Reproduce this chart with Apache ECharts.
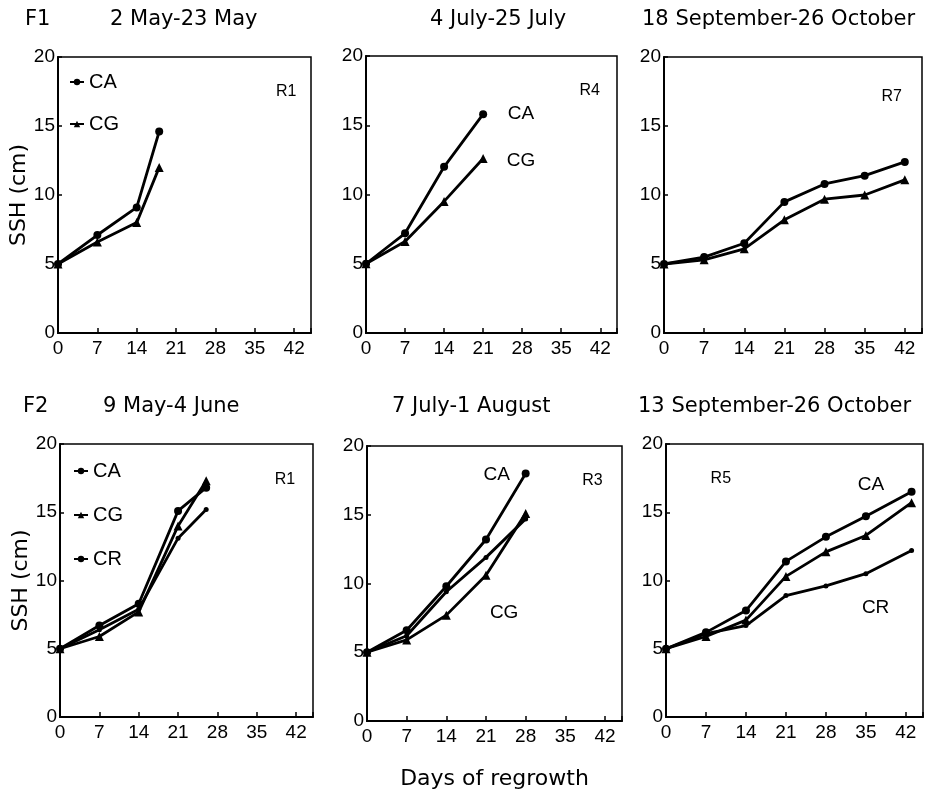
<!DOCTYPE html>
<html>
<head>
<meta charset="utf-8">
<script src="https://cdn.jsdelivr.net/npm/echarts@6/dist/echarts.min.js"></script>
<style>
    body { margin: 0; background: #fff; }
    #main { width: 943px; height: 793px; }
</style>
</head>
<body>
<div id="main"></div>
<script>
// days of regrowth per panel
var days1 = [0, 7, 14, 18];
var days2 = [0, 7, 14, 21];
var days3 = [0, 7, 14, 21, 28, 35, 42];
var days4 = [0, 7, 14, 21, 26];
var days5 = [0, 7, 14, 21, 28];
var days6 = [0, 7, 14, 21, 28, 35, 43];

// SSH (cm)
var ca1 = [5.0, 7.1, 9.1, 14.6];
var cg1 = [5.0, 6.6, 8.0, 12.0];
var ca2 = [5.0, 7.2, 12.0, 15.8];
var cg2 = [5.0, 6.6, 9.5, 12.6];
var ca3 = [5.0, 5.5, 6.5, 9.5, 10.8, 11.4, 12.4];
var cg3 = [5.0, 5.3, 6.1, 8.2, 9.7, 10.0, 11.1];
var ca4 = [5.0, 6.7, 8.3, 15.1, 16.8];
var cg4 = [5.0, 5.9, 7.7, 14.0, 17.3];
var cr4 = [5.0, 6.4, 7.9, 13.1, 15.2];
var ca5 = [5.0, 6.6, 9.8, 13.2, 18.0];
var cg5 = [5.0, 5.9, 7.7, 10.6, 15.1];
var cr5 = [5.0, 6.2, 9.4, 11.9, 14.7];
var ca6 = [5.0, 6.2, 7.8, 11.4, 13.2, 14.7, 16.5];
var cg6 = [5.0, 5.9, 7.1, 10.3, 12.1, 13.3, 15.7];
var cr6 = [5.0, 6.1, 6.7, 8.9, 9.6, 10.5, 12.2];

var xTicks = [0, 7, 14, 21, 28, 35, 42];
var yTicks = [0, 5, 10, 15, 20];

var periods = ['2 May-23 May', '4 July-25 July', '18 September-26 October',
    '9 May-4 June', '7 July-1 August', '13 September-26 October'];

// text labels inside the panels, placed in data coordinates
var notes = [
    { panel: 0, text: 'R1', x: 40.6, y: 17.5 },
    { panel: 1, text: 'R4', x: 40.1, y: 17.5 },
    { panel: 1, text: 'CA', x: 27.8, y: 15.8 },
    { panel: 1, text: 'CG', x: 27.8, y: 12.4 },
    { panel: 2, text: 'R7', x: 39.7, y: 17.1 },
    { panel: 3, text: 'R1', x: 40.0, y: 17.4 },
    { panel: 4, text: 'R3', x: 39.8, y: 17.5 },
    { panel: 4, text: 'CA', x: 22.9, y: 17.9 },
    { panel: 4, text: 'CG', x: 24.2, y: 7.85 },
    { panel: 5, text: 'R5', x: 9.6, y: 17.5 },
    { panel: 5, text: 'CA', x: 35.9, y: 17.0 },
    { panel: 5, text: 'CR', x: 36.7, y: 8.0 }
];

var panels = [
    { days: days1, lines: { CA: ca1, CG: cg1 } },
    { days: days2, lines: { CA: ca2, CG: cg2 } },
    { days: days3, lines: { CA: ca3, CG: cg3 } },
    { days: days4, lines: { CA: ca4, CG: cg4, CR: cr4 } },
    { days: days5, lines: { CA: ca5, CG: cg5, CR: cr5 } },
    { days: days6, lines: { CA: ca6, CG: cg6, CR: cr6 } }
];

var grids = [
    { left: 58, top: 57, width: 253, height: 276 },
    { left: 366, top: 56, width: 251, height: 277 },
    { left: 664, top: 57, width: 258, height: 276 },
    { left: 60, top: 444, width: 253, height: 273 },
    { left: 367, top: 446, width: 255, height: 275 },
    { left: 666, top: 444, width: 257, height: 273 }
];

var symbols = {
    CA: { symbol: 'circle', size: 8 },
    CG: { symbol: 'triangle', size: 9 },
    CR: { symbol: 'circle', size: 5 }
};

var tickFont = "Liberation Sans";
var textFont = "DejaVu Sans";

var myChart = echarts.init(document.getElementById('main'), null, { renderer: 'canvas' });

var gridList = [], xAxes = [], yAxes = [], series = [];
for (var i = 0; i < panels.length; i++) {
    var g = grids[i];
    gridList.push({
        left: g.left, top: g.top, width: g.width, height: g.height,
        show: true, borderColor: '#000', borderWidth: 1.5, backgroundColor: '#fff'
    });
    xAxes.push({
        type: 'value', gridIndex: i, min: 0, max: 45, interval: 7,
        axisLine: { show: true, lineStyle: { color: '#000', width: 2 } },
        axisTick: { show: true, inside: true, length: 5, lineStyle: { color: '#000', width: 1.5 } },
        axisLabel: {
            color: '#000', fontFamily: tickFont, fontSize: 19, margin: 6,
            formatter: function (v) { return xTicks.indexOf(v) >= 0 ? String(v) : ''; }
        },
        splitLine: { show: false },
        name: i === 4 ? 'Days of regrowth' : '',
        nameLocation: 'middle', nameGap: 47,
        nameTextStyle: { color: '#000', fontFamily: textFont, fontSize: 22 }
    });
    yAxes.push({
        type: 'value', gridIndex: i, min: 0, max: 20, interval: 5,
        axisLine: { show: true, lineStyle: { color: '#000', width: 2 } },
        axisTick: { show: true, inside: true, length: 4, lineStyle: { color: '#000', width: 1.5 } },
        axisLabel: {
            color: '#000', fontFamily: tickFont, fontSize: 19, margin: 3,
            formatter: function (v) { return yTicks.indexOf(v) >= 0 ? String(v) : ''; }
        },
        splitLine: { show: false },
        name: (i === 0 || i === 3) ? 'SSH (cm)' : '',
        nameLocation: 'middle', nameGap: 27,
        nameTextStyle: { color: '#000', fontFamily: textFont, fontSize: 22 }
    });

    var p = panels[i];
    var first = true;
    for (var key in p.lines) {
        var pts = [];
        for (var k = 0; k < p.days.length; k++) {
            pts.push([p.days[k], p.lines[key][k]]);
        }
        var s = {
            name: key, type: 'line', xAxisIndex: i, yAxisIndex: i,
            data: pts,
            symbol: symbols[key].symbol, symbolSize: symbols[key].size,
            showAllSymbol: true,
            lineStyle: { color: '#000', width: 2.8 },
            itemStyle: { color: '#000' },
            z: 3
        };
        if (first) {
            var mp = [];
            for (var n = 0; n < notes.length; n++) {
                if (notes[n].panel !== i) continue;
                var isR = notes[n].text.charAt(0) === 'R';
                mp.push({
                    coord: [notes[n].x, notes[n].y],
                    value: notes[n].text,
                    label: { fontSize: isR ? 16 : 19, fontFamily: 'Liberation Sans' }
                });
            }
            s.markPoint = {
                symbol: 'circle', symbolSize: 1,
                itemStyle: { color: 'rgba(0,0,0,0)' },
                label: { show: true, position: 'inside', color: '#000', formatter: '{c}' },
                data: mp
            };
            first = false;
        }
        series.push(s);
    }
}

var titles = [
    { text: 'F1', left: 25, top: 9 },
    { text: periods[0], left: 110, top: 9 },
    { text: periods[1], left: 430, top: 9 },
    { text: periods[2], left: 642, top: 9 },
    { text: 'F2', left: 23, top: 396 },
    { text: periods[3], left: 103, top: 396 },
    { text: periods[4], left: 392, top: 396 },
    { text: periods[5], left: 638, top: 396 }
];
for (var t = 0; t < titles.length; t++) {
    titles[t].textStyle = { color: '#000', fontFamily: textFont, fontSize: 21, fontWeight: 'normal' };
    titles[t].padding = 0;
}

var legendText = { color: '#000', fontFamily: 'Liberation Sans', fontSize: 20 };

var option = {
    backgroundColor: '#fff',
    animation: false,
    title: titles,
    legend: [
        {
            data: ['CA', 'CG'], orient: 'vertical', left: 64, top: 67,
            itemGap: 22, itemWidth: 14, itemHeight: 8, textStyle: legendText,
            selectedMode: false
        },
        {
            data: ['CA', 'CG', 'CR'], orient: 'vertical', left: 68, top: 456,
            itemGap: 24, itemWidth: 14, itemHeight: 8, textStyle: legendText,
            selectedMode: false
        }
    ],
    grid: gridList,
    xAxis: xAxes,
    yAxis: yAxes,
    series: series
};

myChart.setOption(option);
</script>
</body>
</html>
